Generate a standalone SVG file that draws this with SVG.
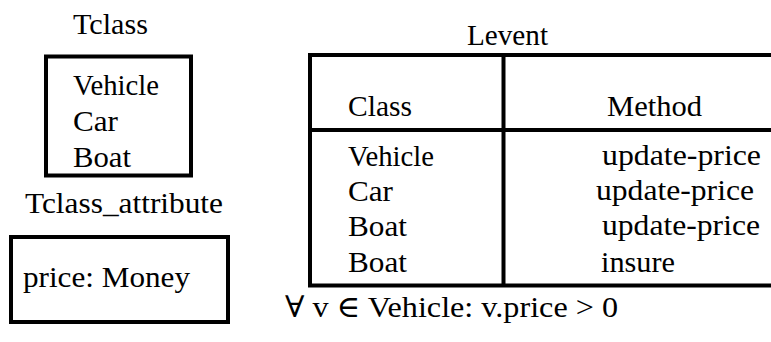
<svg xmlns="http://www.w3.org/2000/svg" width="771" height="342" viewBox="0 0 771 342">
  <style>
    .box { fill: none; stroke: #000; stroke-width: 4; }
    .rule { stroke: #000; stroke-width: 4; fill: none; }
  </style>
  <rect width="771" height="342" fill="#fff"/>

  <g font-family="'Liberation Serif', 'DejaVu Serif', serif" font-size="30" fill="#000" lengthAdjust="spacingAndGlyphs">
  <!-- Tclass table -->
  <g id="tclass">
    <text x="73" y="34" textLength="75" lengthAdjust="spacingAndGlyphs">Tclass</text>
    <rect class="box" x="46" y="56.5" width="145" height="119"/>
    <text x="73" y="95" textLength="86" lengthAdjust="spacingAndGlyphs">Vehicle</text>
    <text x="73" y="131" textLength="45" lengthAdjust="spacingAndGlyphs">Car</text>
    <text x="73" y="167" textLength="58" lengthAdjust="spacingAndGlyphs">Boat</text>
  </g>

  <!-- Tclass_attribute table -->
  <g id="tclass-attribute">
    <text x="25" y="213" textLength="198" lengthAdjust="spacingAndGlyphs">Tclass_attribute</text>
    <rect class="box" x="11" y="237" width="217" height="85"/>
    <text x="23" y="287" textLength="167" lengthAdjust="spacingAndGlyphs">price: Money</text>
  </g>

  <!-- Levent table -->
  <g id="levent">
    <text x="467" y="45" textLength="81" lengthAdjust="spacingAndGlyphs">Levent</text>
    <path class="rule" d="M310 55 H775 M310 130 H775 M310 285.5 H775 M310 53 V287.5 M503.5 55 V285.5"/>
    <text x="348" y="116" textLength="64" lengthAdjust="spacingAndGlyphs">Class</text>
    <text x="607" y="116" textLength="95" lengthAdjust="spacingAndGlyphs">Method</text>
    <text x="348" y="166" textLength="86" lengthAdjust="spacingAndGlyphs">Vehicle</text>
    <text x="348" y="201" textLength="45" lengthAdjust="spacingAndGlyphs">Car</text>
    <text x="348" y="236" textLength="59" lengthAdjust="spacingAndGlyphs">Boat</text>
    <text x="348" y="272" textLength="59" lengthAdjust="spacingAndGlyphs">Boat</text>
    <text x="602" y="165" textLength="159" lengthAdjust="spacingAndGlyphs">update-price</text>
    <text x="596" y="200" textLength="158" lengthAdjust="spacingAndGlyphs">update-price</text>
    <text x="602" y="235" textLength="158" lengthAdjust="spacingAndGlyphs">update-price</text>
    <text x="601" y="272" textLength="74" lengthAdjust="spacingAndGlyphs">insure</text>
  </g>

  <!-- constraint -->
  <g id="constraint">
    <text x="285" y="317" textLength="333" lengthAdjust="spacingAndGlyphs">∀ v ∈ Vehicle: v.price &gt; 0</text>
  </g>
  </g>
</svg>
